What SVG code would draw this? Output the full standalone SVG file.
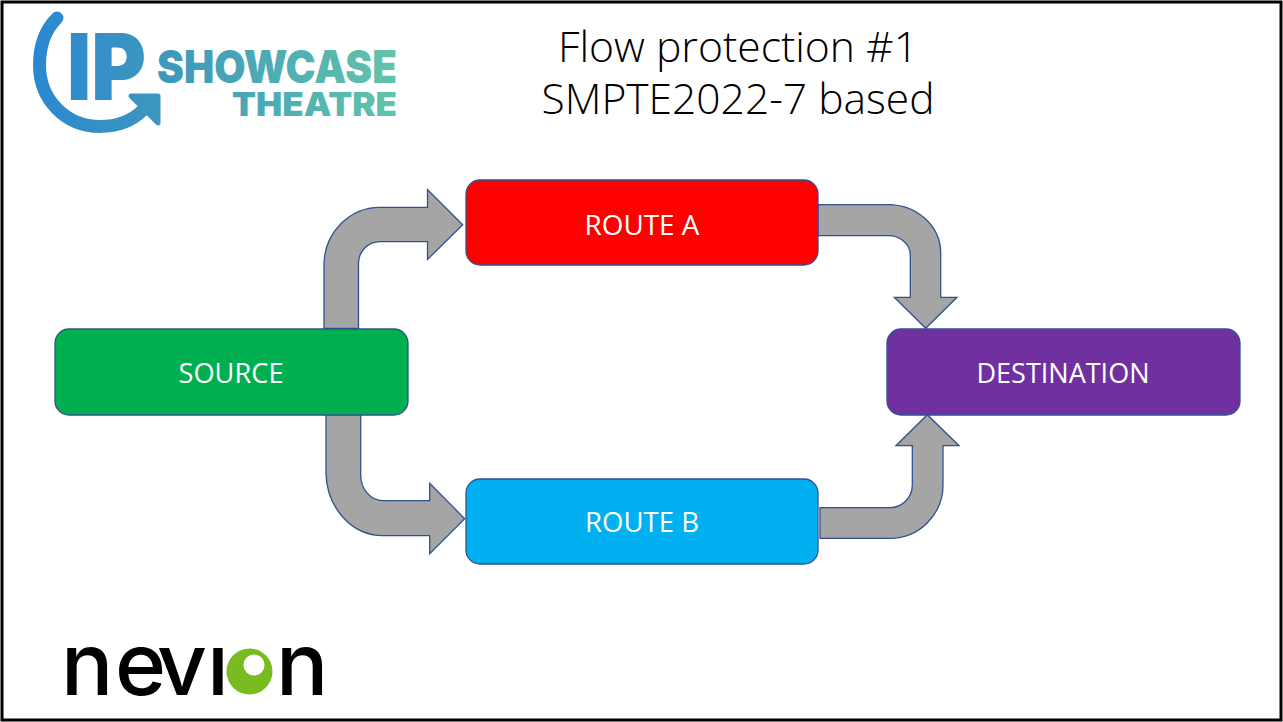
<svg xmlns="http://www.w3.org/2000/svg" width="1283" height="722" viewBox="0 0 1283 722">
<style>
.arrow{fill:#a5a5a5;stroke:#2f528f;stroke-width:1.3;stroke-linejoin:miter}
.node{stroke:#2f528f;stroke-width:1.3}
.label{font-family:"Open Sans","Noto Sans",sans-serif;font-size:27.5px;fill:#fff;text-anchor:middle}
.title{font-family:"Open Sans","Noto Sans",sans-serif;font-size:43px;font-weight:300;fill:#000;text-anchor:middle}
.logo{font-family:Inter,Roboto,"Liberation Sans",sans-serif;font-weight:900;fill:url(#lg)}
</style>
<defs>
<linearGradient id="lg" gradientUnits="userSpaceOnUse" x1="33" y1="0" x2="397" y2="0">
<stop offset="0" stop-color="#2b87d0"/><stop offset="0.4" stop-color="#3f9abb"/><stop offset="1" stop-color="#62c4aa"/>
</linearGradient>
<clipPath id="nc"><rect x="60" y="647" width="280" height="55"/></clipPath>
</defs>
<rect x="0" y="0" width="1283" height="722" fill="#fff"/>
<rect x="2" y="2" width="1279" height="718" fill="#fff" stroke="#000" stroke-width="3"/>
<g id="logo-ip">
<path d="M57 18C45 30 39.5 46 39.5 65C39.5 100 66 126.5 100 126.5C118 126.5 133 120 143 110" fill="none" stroke="url(#lg)" stroke-width="13" stroke-linecap="round"/>
<path d="M131 96H158V123Z" fill="url(#lg)" stroke="url(#lg)" stroke-width="5" stroke-linejoin="round"/>
<text class="logo" x="67" y="99.5" font-size="92" textLength="79" lengthAdjust="spacingAndGlyphs">IP</text>
<text class="logo" x="157" y="82.5" font-size="46" textLength="240" lengthAdjust="spacingAndGlyphs">SHOWCASE</text>
<text class="logo" x="232" y="116" font-size="33" textLength="165" lengthAdjust="spacingAndGlyphs">THEATRE</text>
</g>
<g id="logo-nevion">
<circle cx="249.5" cy="671.5" r="23" fill="#78bc20"/>
<circle cx="254" cy="665" r="10.5" fill="#fff"/>
<text clip-path="url(#nc)" x="61 115 157 207 230 276" y="695" font-family="Inter,'Open Sans',sans-serif" font-size="87" font-weight="500" fill="#000">nevi<tspan fill="none" font-size="70">o</tspan>n</text>
</g>
<g id="title"><text class="title" x="738" y="62" textLength="360" lengthAdjust="spacingAndGlyphs">Flow protection #1</text><text class="title" x="738" y="114" textLength="393" lengthAdjust="spacingAndGlyphs">SMPTE2022-7 based</text></g>
<g id="connectors">
<path class="arrow" d="M324 328.5V265A56 57.7 0 0 1 380 207.3H427.5V189.5L462.7 224.7L427.5 259.5V241.7H380A21.5 21.3 0 0 0 358.5 263V328.5Z"/>
<path class="arrow" d="M818 204.7H888A52.7 48.3 0 0 1 940.7 253V297.3H957L925.7 328.3L894.3 297.3H910.3V255A22.3 19.3 0 0 0 888 235.7H818Z"/>
<path class="arrow" d="M326 414.7V472A57 63.7 0 0 0 383 535.7H429.7V553.7L464.7 518.7L429.7 483.3V500.7H383A22.3 25.7 0 0 1 360.7 475V414.7Z"/>
<path class="arrow" d="M820 507.7H890A22.3 22.7 0 0 0 912.3 485V445.7H896L927.3 414.7L959 445.7H943V485A53 53.3 0 0 1 890 538.3H820Z"/>
</g>
<g id="source"><rect class="node" x="55" y="329" width="353" height="86" rx="14" fill="#00b050"/><text class="label" x="231" y="383" textLength="105" lengthAdjust="spacingAndGlyphs">SOURCE</text></g>
<g id="route-a"><rect class="node" x="466" y="180" width="352" height="85" rx="14" fill="#f00"/><text class="label" x="642" y="235" textLength="115" lengthAdjust="spacingAndGlyphs">ROUTE A</text></g>
<g id="route-b"><rect class="node" x="466" y="479" width="352" height="85" rx="14" fill="#00b0f0"/><text class="label" x="642" y="532" textLength="114" lengthAdjust="spacingAndGlyphs">ROUTE B</text></g>
<g id="destination"><rect class="node" x="887" y="329" width="353" height="86" rx="14" fill="#7030a0"/><text class="label" x="1063" y="383" textLength="173" lengthAdjust="spacingAndGlyphs">DESTINATION</text></g>
</svg>
